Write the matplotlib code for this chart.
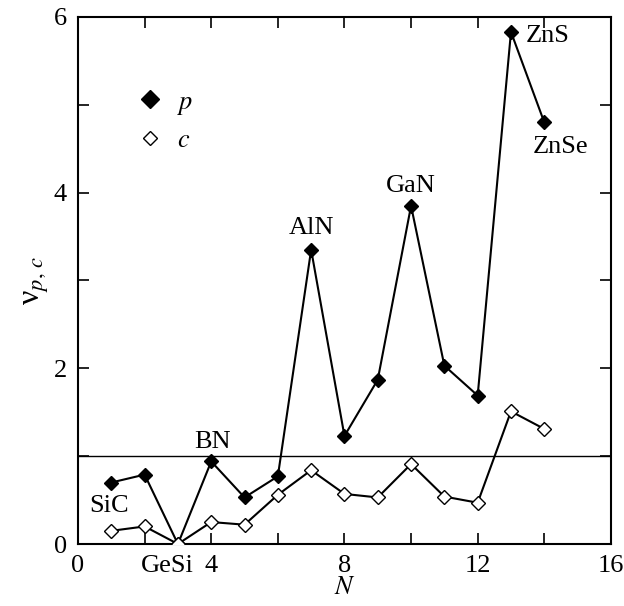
import numpy as np
import matplotlib.pyplot as plt
from matplotlib.lines import Line2D

plt.rcParams['font.family'] = ['Liberation Serif', 'DejaVu Serif']
plt.rcParams['mathtext.fontset'] = 'stix'

# number of the compound along N
N = [1, 2, 3, 4, 5, 6, 7, 8, 9, 10, 11, 12, 13, 14]
nu_p = [0.70, 0.79, 0.00, 0.94, 0.53, 0.77, 3.35, 1.23, 1.87, 3.85, 2.03, 1.69, 5.83, 4.80]
nu_c = [0.15, 0.20, 0.00, 0.25, 0.22, 0.56, 0.84, 0.57, 0.53, 0.91, 0.54, 0.47, 1.51, 1.31]

# compound labels
names = ['SiC', 'BN', 'AlN', 'GaN', 'ZnS', 'ZnSe']
name_x = [0.93, 4.05, 7.0, 10.0, 13.45, 13.65]
name_y = [0.43, 1.16, 3.6, 4.07, 5.78, 4.52]
name_ha = ['center', 'center', 'center', 'center', 'left', 'left']

fig = plt.figure(figsize=(6.24, 6.06), dpi=100)
ax = fig.add_axes([0.125, 0.1023, 0.854, 0.8697])

ax.axhline(1, color='black', lw=1.0, zorder=1)
ax.plot(N, nu_p, color='black', lw=1.5, marker='D', ms=7.5,
        mfc='black', mec='black', zorder=3)
ax.plot(N, nu_c, color='black', lw=1.5, marker='D', ms=7,
        mfc='white', mec='black', mew=1.0, zorder=3)

for s, x, y, ha in zip(names, name_x, name_y, name_ha):
    ax.text(x, y, s, fontsize=19, ha=ha, va='center')

# GeSi sits in the tick label row, just left of N = 3
ax.annotate('GeSi', xy=(2.67, 0), xycoords=('data', 'axes fraction'),
            xytext=(0, -8), textcoords='offset points',
            fontsize=19, ha='center', va='top')

ax.set_xlim(0, 16)
ax.set_ylim(0, 6)
ax.set_xticks(np.arange(0, 17, 2))
ax.set_xticklabels(['0', '', '4', '', '8', '', '12', '', '16'])
ax.set_yticks(np.arange(0, 7, 1))
ax.set_yticklabels(['0', '', '2', '', '4', '', '6'])
ax.tick_params(direction='in', length=8, width=1.2, top=True, right=True,
               labelsize=19, pad=8)
for sp in ax.spines.values():
    sp.set_linewidth(1.5)

ax.set_xlabel('$N$', fontsize=19, labelpad=0)
ax.set_ylabel(r'ν$_{p,\,c}$', fontsize=23, labelpad=2)

handles = [
    Line2D([], [], ls='none', marker='D', ms=9, mfc='black', mec='black'),
    Line2D([], [], ls='none', marker='D', ms=7, mfc='white', mec='black', mew=1.0),
]
ax.legend(handles, ['$p$', '$c$'], loc='upper left', bbox_to_anchor=(0.065, 0.906),
          frameon=False, fontsize=19, handlelength=1.0, handletextpad=0.55,
          labelspacing=0.45)

fig.savefig('out.png', dpi=100)
